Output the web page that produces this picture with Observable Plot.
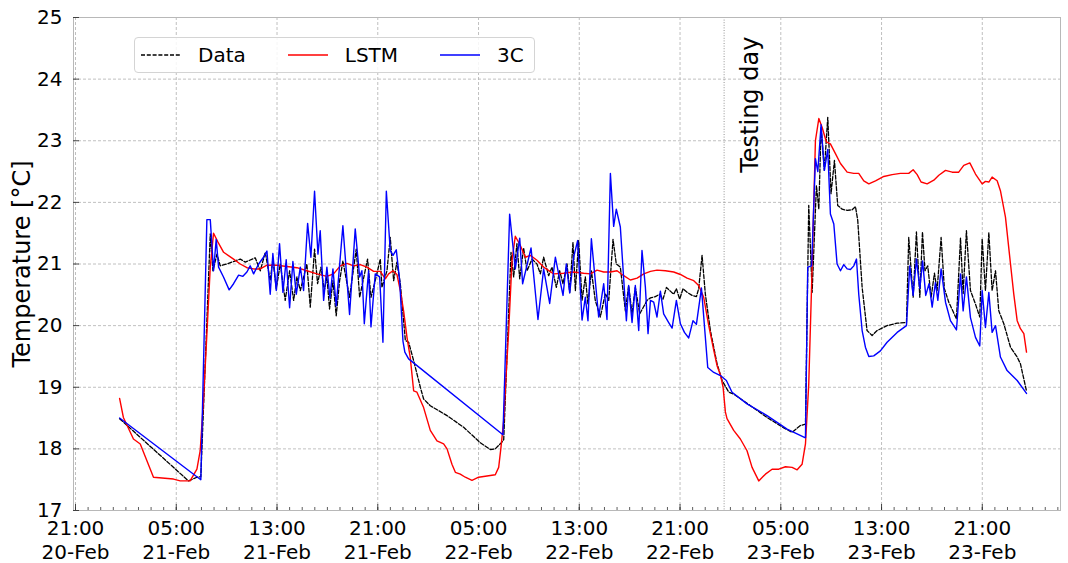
<!DOCTYPE html>
<html>
<head>
<meta charset="utf-8">
<script src="https://cdn.jsdelivr.net/npm/d3@7"></script>
<script src="https://cdn.jsdelivr.net/npm/@observablehq/plot@0.6"></script>
<style>
  body { margin: 0; background: #fff; font-family: "DejaVu Sans", sans-serif; }
  #wrap { position: relative; width: 1068px; height: 563px; }
  #legend { position: absolute; left: 134px; top: 37px; width: 401px; height: 36px; box-sizing: border-box;
            border: 1px solid #d4d4d4; border-radius: 4px; background: rgba(255,255,255,0.85);
            display: flex; align-items: center; padding-left: 6px; font-size: 20px; color: #000; }
  .item { display: flex; align-items: center; margin-right: 42px; }
  .item svg { margin-right: 17px; }
</style>
</head>
<body>
<div id="wrap"><div id="legend"></div></div>
<script>
// ---- series names / colours ----
const seriesNames = ["Data", "LSTM", "3C"];
const seriesColors = ["#000000", "#ff0000", "#0000ff"];

// ---- times are hours since 21-Feb 00:00 ----
const lstmHours = [0.5,0.8,1.6,2.14,3.19,4.78,5.31,6.1,6.64,6.9,7.16,7.43,7.7,7.96,8.3,8.76,9.55,10.08,10.61,11.14,11.67,12.2,12.99,13.79,14.58,15.37,16.17,16.96,17.49,18.02,18.55,19.08,19.61,20.14,20.67,21.2,21.6,21.86,22.21,22.52,22.79,23.05,23.32,23.58,23.85,24.11,24.64,25.17,25.7,26.23,26.5,26.89,27.16,27.55,27.95,28.48,29.01,29.67,30.33,30.6,30.78,31.0,31.21,31.39,31.66,31.92,32.32,32.72,33.11,33.64,34.17,34.97,35.76,36.55,37.35,37.88,38.41,38.94,39.47,40.0,40.53,41.06,41.59,42.12,42.65,43.17,43.84,44.5,45.03,45.56,46.09,46.48,46.88,47.28,47.68,47.94,48.21,48.42,48.6,48.73,49.26,49.79,50.32,50.72,51.25,51.78,52.31,52.84,53.37,53.9,54.3,54.69,54.96,55.22,55.49,55.75,56.02,56.28,56.62,56.94,57.34,57.74,58.27,58.79,59.19,59.59,59.99,60.52,61.18,61.84,62.5,63.16,63.51,63.83,64.14,64.62,65.15,65.55,66.08,66.61,67.13,67.53,68.01,68.46,68.99,69.25,69.52,69.78,70.18,70.44,70.84,71.24,71.5,71.77,72.03,72.3,72.51];
const lstmTemps = [18.82,18.51,18.16,18.08,17.54,17.51,17.48,17.48,17.67,17.97,18.78,19.86,20.95,21.5,21.36,21.19,21.08,21.0,20.94,20.92,20.92,20.98,20.98,20.96,20.94,20.89,20.84,20.8,20.84,20.97,21.01,20.97,20.99,20.95,20.88,20.88,20.76,20.84,20.89,20.83,20.57,20.24,19.81,19.48,18.94,18.92,18.67,18.3,18.13,18.08,18.0,17.75,17.62,17.59,17.54,17.49,17.54,17.56,17.58,17.7,18.02,18.46,19.27,19.9,21.06,21.45,21.3,21.11,21.14,21.06,20.95,20.84,20.85,20.87,20.85,20.84,20.9,20.87,20.87,20.89,20.81,20.74,20.77,20.84,20.88,20.9,20.89,20.87,20.83,20.77,20.73,20.65,20.46,20.0,19.6,19.35,19.2,19.0,18.6,18.49,18.3,18.16,17.97,17.7,17.48,17.59,17.67,17.67,17.71,17.7,17.66,17.75,18.08,19.05,20.95,23.0,23.36,23.22,22.98,22.95,22.79,22.63,22.49,22.47,22.47,22.35,22.3,22.35,22.42,22.45,22.47,22.47,22.53,22.45,22.33,22.3,22.36,22.44,22.52,22.49,22.49,22.6,22.64,22.46,22.3,22.34,22.33,22.41,22.35,22.19,21.76,21.0,20.51,20.08,19.95,19.87,19.57];

const c3Hours = [0.5,6.95,7.43,7.7,7.96,8.17,8.36,8.75,9.2,9.55,9.95,10.29,10.61,10.87,11.14,11.54,11.93,12.2,12.46,12.67,12.94,13.2,13.47,13.73,14.0,14.26,14.53,14.85,15.11,15.43,15.69,15.98,16.25,16.43,16.7,16.96,17.2,17.44,17.7,18.23,18.76,19.21,19.56,19.74,19.93,20.27,20.46,20.8,21.15,21.41,21.68,21.99,22.21,22.47,22.74,23.0,23.15,23.45,30.94,31.47,31.92,32.27,32.5,33.17,33.72,34.17,34.65,35.1,35.44,35.71,35.97,36.24,36.55,36.87,37.22,37.48,37.69,37.96,38.54,38.94,39.2,39.47,39.73,39.94,40.26,40.45,40.74,40.92,41.19,41.45,41.72,41.98,42.25,42.46,42.65,42.91,43.17,43.44,43.7,44.1,44.37,44.71,45.03,45.35,45.69,46.03,46.3,46.7,47.2,47.68,48.21,48.68,49.13,50.32,51.91,53.5,54.96,55.14,55.45,55.75,55.94,56.2,56.46,56.73,56.94,57.21,57.47,57.74,58.0,58.27,58.53,58.8,59.01,59.19,59.46,59.72,59.99,60.38,60.91,61.44,62.24,62.98,63.24,63.51,63.77,64.04,64.26,64.51,64.77,65.02,65.28,65.47,65.73,66.08,66.47,66.95,67.27,67.48,67.74,68.06,68.46,68.8,68.99,69.25,69.52,69.78,70.05,70.44,70.97,71.77,72.51];
const c3Temps = [18.5,17.5,21.72,21.72,20.89,21.4,20.95,20.79,20.58,20.68,20.82,20.8,20.87,20.97,20.84,21.0,21.11,21.21,20.51,21.17,20.57,21.33,20.54,21.07,20.29,21.04,20.51,20.95,20.57,21.66,21.11,22.18,21.16,21.54,20.41,20.95,20.45,20.92,20.32,21.62,20.18,21.57,20.79,20.89,20.03,20.89,19.98,20.84,20.79,19.73,22.18,21.22,21.14,21.23,20.73,19.75,19.57,19.46,18.23,21.81,20.92,21.42,20.68,21.26,20.1,20.92,20.36,21.11,20.76,20.49,21.0,20.53,21.11,21.38,20.09,20.46,20.08,21.41,20.14,20.68,20.1,22.47,21.61,21.89,21.6,21.0,20.08,20.65,20.05,20.65,19.92,21.22,20.62,19.87,20.41,20.38,20.14,20.56,20.19,20.05,19.96,20.41,20.03,19.89,19.8,20.08,20.02,20.61,19.32,19.24,19.19,19.11,18.92,18.73,18.54,18.32,18.18,20.95,20.97,22.71,22.5,23.26,22.52,22.86,21.81,21.65,21.0,20.89,20.99,20.92,20.91,20.97,21.08,20.51,19.92,19.65,19.5,19.51,19.59,19.73,19.89,20.0,20.97,20.49,21.08,20.6,21.05,20.49,20.68,20.3,20.7,20.41,20.92,20.38,20.08,19.93,20.84,20.24,20.79,20.13,19.81,19.67,20.57,19.97,20.54,19.89,20.0,19.49,19.27,19.11,18.9];

const dataHours = [0.5,5.97,6.64,6.95,7.7,7.91,8.23,8.49,9.02,9.55,10.08,10.48,11.27,11.67,12.07,12.46,12.67,12.94,13.26,13.65,14.0,14.32,14.58,14.85,15.37,15.64,15.98,16.22,16.49,16.75,16.96,17.17,17.44,17.7,17.97,18.23,18.76,19.29,19.56,20.19,20.46,20.8,21.2,21.33,21.73,21.99,22.26,22.52,22.79,23.19,23.45,23.85,24.38,24.64,25.17,26.5,27.82,29.14,29.94,30.33,30.86,31.0,31.58,31.79,32.05,32.27,32.58,32.85,33.25,33.64,33.91,34.17,34.57,34.83,35.18,35.44,35.71,36.03,36.24,36.5,36.69,36.95,37.22,37.48,37.69,37.96,38.27,38.67,39.07,39.34,39.68,39.94,40.26,40.66,40.92,41.19,41.45,41.8,42.38,42.65,43.04,43.39,43.65,43.92,44.23,44.5,44.71,44.97,45.24,45.56,45.96,46.3,46.48,46.75,47.01,47.41,47.94,48.34,48.87,49.26,50.59,51.91,53.24,53.9,54.56,54.96,55.22,55.49,55.83,56.02,56.2,56.46,56.73,56.99,57.26,57.52,57.87,58.27,58.66,58.93,59.11,59.46,59.85,60.25,60.65,61.44,62.24,62.98,63.16,63.51,63.77,64.04,64.25,64.45,64.67,64.94,65.2,65.41,65.73,65.99,66.34,66.95,67.27,67.48,67.74,68.06,68.46,68.8,68.99,69.25,69.52,69.78,70.05,70.31,70.71,71.24,71.77,72.03,72.51];
const dataTemps = [18.49,17.48,17.54,17.55,21.49,20.89,21.16,20.97,21.0,21.04,21.08,21.03,21.1,20.89,21.19,20.73,21.08,20.6,21.0,20.41,20.89,20.41,20.79,20.57,21.0,20.3,21.24,20.68,20.95,20.57,20.79,20.27,20.73,20.16,20.73,21.05,20.46,21.24,20.46,21.08,20.46,20.73,21.08,20.62,20.89,21.43,20.73,21.03,20.68,19.76,19.73,19.43,19.0,18.81,18.7,18.54,18.35,18.1,17.99,18.0,18.11,18.15,21.19,20.79,21.33,20.76,21.26,20.89,21.08,21.0,20.84,21.11,20.81,20.95,20.62,20.89,20.68,21.0,20.54,21.35,20.57,21.38,20.41,20.79,20.35,20.89,20.41,20.14,20.52,20.41,21.4,21.0,20.95,20.24,20.65,20.19,20.62,20.19,20.41,20.45,20.47,20.51,20.43,20.62,20.56,20.51,20.6,20.43,20.6,20.54,20.49,20.47,20.6,21.14,20.51,19.92,19.38,19.11,18.92,18.89,18.7,18.51,18.34,18.27,18.38,18.4,21.95,20.54,22.27,21.89,23.22,22.52,23.38,22.14,22.68,21.95,21.89,21.87,21.88,21.93,21.71,20.62,19.92,19.84,19.92,20.0,20.04,20.05,21.43,20.46,21.52,20.46,21.52,20.89,20.97,20.46,20.85,20.57,21.43,20.6,20.38,20.11,21.42,20.52,21.54,20.57,20.35,20.14,21.41,20.57,21.51,20.57,20.89,20.24,20.03,19.65,19.49,19.38,18.94];

// ---- axis ticks / annotations ----
const yTicks = [17, 18, 19, 20, 21, 22, 23, 24, 25];
const majorTickHours = [-3, 5, 13, 21, 29, 37, 45, 53, 61, 69];
const xDomainHours = [-3.16, 75.21];
const yDomain = [17, 25];
const testingHour = 48.5;
const testingLabel = "Testing day";
const testingLabelTemp = 22.48;
const yLabel = "Temperature [°C]";

const base = Date.UTC(2021, 1, 21, 0, 0);
const toDate = h => new Date(base + h * 3600e3);

const rows = (hours, temps, name) => hours.map((h, i) => ({t: toDate(h), v: temps[i], s: name}));
const dataRows = rows(dataHours, dataTemps, "Data");
const lstmRows = rows(lstmHours, lstmTemps, "LSTM");
const c3Rows = rows(c3Hours, c3Temps, "3C");

const majorTicks = majorTickHours.map(toDate);
const minorTicks = d3.utcHour.every(1).range(toDate(xDomainHours[0]), toDate(xDomainHours[1]));
const fmt = d3.utcFormat("%H:%M\n%d-%b");

const gridStyle = {stroke: "#b0b0b0", strokeOpacity: 1, strokeWidth: 0.8, strokeDasharray: "3,2"};

const chart = Plot.plot({
  width: 1068,
  height: 563,
  marginLeft: 73,
  marginRight: 8,
  marginTop: 17,
  marginBottom: 53,
  style: {fontFamily: "DejaVu Sans", fontSize: "20px", color: "#000", background: "#fff", overflow: "visible"},
  x: {type: "utc", domain: xDomainHours.map(toDate), axis: null},
  y: {domain: yDomain, axis: null},
  marks: [
    Plot.gridX(majorTicks, gridStyle),
    Plot.gridY(yTicks, gridStyle),
    Plot.ruleX([toDate(testingHour)], {stroke: "#888", strokeWidth: 0.9, strokeDasharray: "1,1.6"}),
    Plot.line(dataRows, {x: "t", y: "v", stroke: seriesColors[0], strokeWidth: 1.3, strokeDasharray: "4,1.8"}),
    Plot.line(lstmRows, {x: "t", y: "v", stroke: seriesColors[1], strokeWidth: 1.4}),
    Plot.line(c3Rows, {x: "t", y: "v", stroke: seriesColors[2], strokeWidth: 1.4}),
    Plot.text([testingLabel], {x: toDate(testingHour), y: testingLabelTemp, text: d => d, rotate: -90,
      textAnchor: "start", lineAnchor: "middle", dx: 26, fontSize: 24, fill: "#000"}),
    Plot.frame({stroke: "#b8b8b8", strokeWidth: 1}),
    // inward tick marks
    Plot.axisX(minorTicks, {anchor: "bottom", tickSize: 3, dy: -3, fill: "none", label: null, stroke: "#333", strokeWidth: 0.8}),
    Plot.axisX(majorTicks, {anchor: "bottom", tickSize: 6, dy: -6, fill: "none", label: null, stroke: "#333", strokeWidth: 0.9}),
    Plot.axisY(yTicks, {anchor: "left", tickSize: 6, dx: 6, fill: "none", label: null, stroke: "#333", strokeWidth: 0.9}),
    // tick labels
    Plot.axisX(majorTicks, {anchor: "bottom", tickSize: 0, tickPadding: 7, tickFormat: fmt, fontSize: 20, lineHeight: 1.2, label: null}),
    Plot.axisY(yTicks, {anchor: "left", tickSize: 0, tickPadding: 11, tickFormat: d3.format("d"), fontSize: 20, label: null}),
    Plot.text([yLabel], {frameAnchor: "left", text: d => d, rotate: -90, textAnchor: "middle", lineAnchor: "middle",
      dx: -51, fontSize: 24, fill: "#000"})
  ]
});

const wrap = document.getElementById("wrap");
wrap.insertBefore(chart, wrap.firstChild);

// legend (inside the axes, upper left, as in the reference)
const legend = document.getElementById("legend");
seriesNames.forEach((name, i) => {
  const item = document.createElement("div");
  item.className = "item";
  const dash = i === 0 ? 'stroke-dasharray="4,1.8"' : "";
  item.innerHTML = `<svg width="40" height="10"><line x1="0" y1="5" x2="40" y2="5" stroke="${seriesColors[i]}" stroke-width="1.3" ${dash}/></svg><span>${name}</span>`;
  legend.appendChild(item);
});
</script>
</body>
</html>
